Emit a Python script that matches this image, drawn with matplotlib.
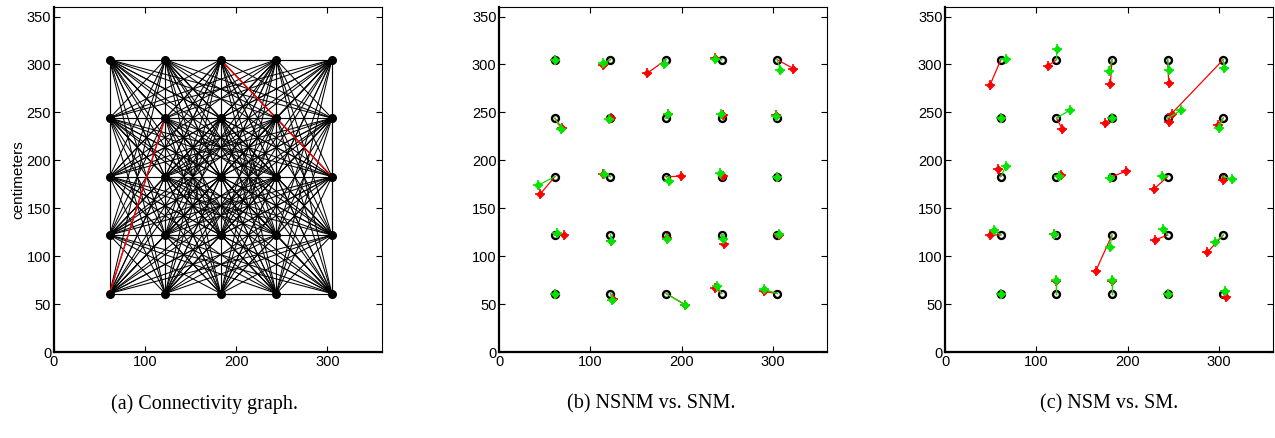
#!/usr/bin/env python3

import itertools
import numpy as np
import matplotlib
matplotlib.use("Agg")
import matplotlib.pyplot as plt

# grid of sensor nodes (cm)
grid_cm = [61, 122, 183, 244, 305]

# highlighted links in the connectivity graph
red_links = [((61, 61), (122, 244)), ((183, 305), (305, 183))]

# node order: rows from bottom (y=61) to top, x left to right
# panel (b): NSNM (red) and SNM (green) estimates
b_red_x = [61, 125, 204, 237.2, 290.2,
           71, 122.6, 184, 247, 306.5,
           44.7, 114, 199.8, 245, 305,
           68.8, 122.2, 185.5, 245, 303.8,
           61, 114.2, 162.5, 237, 322.8]
b_red_y = [61, 55.7, 49.5, 66.9, 63.3,
           122.5, 116, 119, 113, 122.5,
           164.6, 186, 183.4, 184, 183,
           233.5, 244, 248.8, 247, 247.8,
           305, 299.6, 290.9, 307, 295.8]
b_green_x = [61, 124, 204.2, 239, 290.6,
             63.7, 122.6, 184.2, 245, 306.7,
             42.5, 114.6, 186.3, 242.6, 305,
             67.4, 120.8, 184.8, 243.7, 303.4,
             61, 113.5, 180.4, 237.1, 308.5]
b_green_y = [61, 53.9, 49, 68.6, 65.4,
             123.9, 115.5, 118, 118, 122.8,
             174, 185.8, 178.2, 187.2, 183,
             233.1, 242.9, 248.1, 248.4, 246,
             305, 301.7, 301, 306.2, 294.7]

# panel (c): NSM (red) and SM (green) estimates
c_red_x = [61, 122, 183, 244, 307.8,
           49.4, 119.7, 165.1, 230.2, 287.6,
           57.8, 127, 198, 229.1, 305.2,
           61, 128.5, 175, 245.9, 299,
           49.1, 112.7, 181.1, 245.2, 248.5]
c_red_y = [61, 74, 74.5, 61, 57.1,
           122.2, 122.8, 84.6, 116.9, 104,
           191, 184.4, 188.6, 170.1, 179.5,
           244, 232.4, 238.7, 240.1, 236.6,
           278.7, 298.5, 279.4, 281.1, 248.8]
c_green_x = [61, 122, 183, 244, 307,
             53.5, 119.7, 180.8, 239, 296,
             66.6, 125.1, 180.5, 238.2, 314.7,
             61, 136.5, 183.5, 258.7, 300.4,
             66.6, 122.6, 179.7, 245.5, 305.9]
c_green_y = [61, 74.8, 75.2, 61, 63.4,
             127, 122.8, 110, 128.7, 114.5,
             194.2, 184, 181.3, 183.3, 180.6,
             244, 252.3, 244, 252.3, 234.1,
             305.8, 316.3, 293.7, 294, 296.1]

captions = ["(a) Connectivity graph.", "(b) NSNM vs. SNM.", "(c) NSM vs. SM."]

RED = "#ff0000"
GREEN = "#00e600"


def node_list():
    return [(x, y) for y in grid_cm for x in grid_cm]


def style_axes(ax):
    """MATLAB-like box axes."""
    ax.set_xlim(0, 360)
    ax.set_ylim(0, 360)
    ax.set_xticks([0, 100, 200, 300])
    ax.set_yticks(np.arange(0, 351, 50))
    ax.tick_params(direction="in", top=True, right=True, length=4,
                   width=0.8, labelsize=10.5, pad=2)
    for side in ["left", "bottom"]:
        ax.spines[side].set_linewidth(1.6)
    for side in ["top", "right"]:
        ax.spines[side].set_linewidth(0.8)


def plot_graph(ax):
    nodes = node_list()
    for p, q in itertools.combinations(nodes, 2):
        ax.plot([p[0], q[0]], [p[1], q[1]], color="k", lw=0.75, zorder=1)
    for p, q in red_links:
        ax.plot([p[0], q[0]], [p[1], q[1]], color=RED, lw=1.0, zorder=2)
    xs = [n[0] for n in nodes]
    ys = [n[1] for n in nodes]
    ax.plot(xs, ys, "o", color="k", ms=5.5, zorder=3)


def plot_estimates(ax, rx, ry, gx, gy):
    nodes = node_list()
    for i, (nx, ny) in enumerate(nodes):
        ax.plot([nx, rx[i]], [ny, ry[i]], color=RED, lw=0.9, zorder=2)
        ax.plot([nx, gx[i]], [ny, gy[i]], color=GREEN, lw=0.9, zorder=3)
    xs = [n[0] for n in nodes]
    ys = [n[1] for n in nodes]
    ax.plot(xs, ys, "o", mfc="none", mec="k", mew=1.7, ms=5, zorder=1)
    ax.plot(rx, ry, "D", color=RED, ms=3.5, zorder=2)
    ax.plot(rx, ry, "+", color=RED, ms=6.5, mew=1.2, zorder=2)
    ax.plot(gx, gy, "D", color=GREEN, ms=3.5, zorder=3)
    ax.plot(gx, gy, "+", color=GREEN, ms=6.5, mew=1.2, zorder=3)


def main():
    plt.rcParams["font.family"] = ["Liberation Sans", "DejaVu Sans"]
    fig = plt.figure(figsize=(12.75, 4.38), dpi=100)

    lefts = [54 / 1275, 499.3 / 1275, 945.3 / 1275]
    bottom = 86 / 438
    width = 328 / 1275
    height = 345 / 438
    axes = [fig.add_axes([l, bottom, width, height]) for l in lefts]

    plot_graph(axes[0])
    plot_estimates(axes[1], b_red_x, b_red_y, b_green_x, b_green_y)
    plot_estimates(axes[2], c_red_x, c_red_y, c_green_x, c_green_y)

    for ax in axes:
        style_axes(ax)
    axes[0].set_ylabel("centimeters", fontsize=11, labelpad=1)

    centers = [204.5 / 1275, 651 / 1275, 1109 / 1275]
    for cx, txt in zip(centers, captions):
        fig.text(cx, (438 - 404) / 438, txt, ha="center", va="center",
                 fontsize=14.5, family="Liberation Serif")

    fig.savefig("out.png", dpi=100)
    plt.close(fig)


if __name__ == '__main__':
    main()
